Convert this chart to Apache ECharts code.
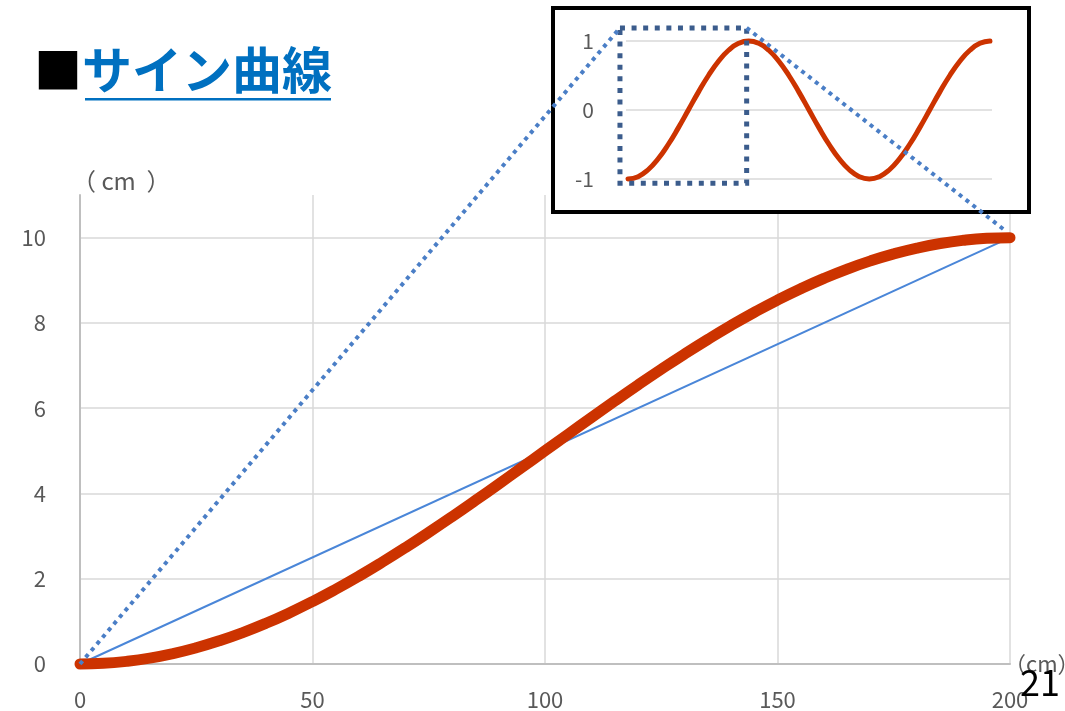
<!DOCTYPE html>
<html><head><meta charset="utf-8">
<script src="https://cdn.jsdelivr.net/npm/echarts@6/dist/echarts.min.js"></script>
<style>html,body{margin:0;padding:0;background:#fff;}#c{width:1065px;height:711px;}</style>
</head><body><div id="c"></div>
<script>
// ---- data ----
const distanceX = [0,5,10,15,20,25,30,35,40,45,50,55,60,65,70,75,80,85,90,95,100,105,110,115,120,125,130,135,140,145,150,155,160,165,170,175,180,185,190,195,200];
const sineCurveY = [0,0.015,0.062,0.138,0.245,0.381,0.545,0.737,0.955,1.198,1.464,1.753,2.061,2.388,2.730,3.087,3.455,3.833,4.218,4.608,5.000,5.392,5.782,6.167,6.545,6.913,7.270,7.612,7.939,8.247,8.536,8.802,9.045,9.263,9.455,9.619,9.755,9.862,9.938,9.985,10];
const straightX = [0,200];
const straightY = [0,10];
const xTicks = [0,50,100,150,200];
const yTicks = [0,2,4,6,8,10];
const insetAngle = [0,15,30,45,60,75,90,105,120,135,150,165,180,195,210,225,240,255,270,285,300,315,330,345,360,375,390,405,420,435,450,465,480,495,510,525,540];
const insetWave = [-1,-0.966,-0.866,-0.707,-0.5,-0.259,0,0.259,0.5,0.707,0.866,0.966,1,0.966,0.866,0.707,0.5,0.259,0,-0.259,-0.5,-0.707,-0.866,-0.966,-1,-0.966,-0.866,-0.707,-0.5,-0.259,0,0.259,0.5,0.707,0.866,0.966,1];
const insetTicks = [-1,0,1];
const zoomedRange = {angleFrom:-12, angleTo:177, low:-1.06, high:1.19};
const titleMark = '■';
const titleText = 'サイン曲線';
const unitLabel = '（ cm  ）';
const xUnitLabel = '（cm）';
const pageNumber = '21';

const FONT = '"Noto Sans CJK JP", "Noto Sans", sans-serif';
const GREY = '#595959';
const chart = echarts.init(document.getElementById('c'), null, {renderer:'canvas'});

const option = {
  animation:false,
  backgroundColor:'#fff',
  textStyle:{fontFamily:FONT},
  title:{
    left:34, top:45, padding:0,
    text:'{m|'+titleMark+'}{t|'+titleText+'}',
    textStyle:{rich:{
      m:{fontSize:48, color:'#000', fontFamily:FONT},
      t:{fontSize:50, color:'#0070C0', fontWeight:'bold', fontFamily:FONT}
    }}
  },
  grid:[
    {left:80, right:55, top:195, bottom:47, containLabel:false, outerBoundsMode:'none'},
    {left:626, width:366, top:41, height:138, z:5, containLabel:false, outerBoundsMode:'none'}
  ],
  xAxis:[
    {type:'value', gridIndex:0, min:0, max:200, interval:50,
     name:xUnitLabel, nameLocation:'end', nameGap:-6,
     nameTextStyle:{fontSize:22, color:GREY, align:'left', verticalAlign:'middle', fontFamily:FONT},
     axisLine:{show:true, lineStyle:{color:'#bfbfbf', width:2}},
     axisTick:{show:false},
     axisLabel:{fontSize:22, color:GREY, margin:25, fontFamily:FONT,
       formatter:v=>xTicks.includes(v)?String(v):''},
     splitLine:{show:true, lineStyle:{color:'#d9d9d9', width:1.5}}},
    {type:'value', gridIndex:1, min:-3, max:543, show:false, z:5}
  ],
  yAxis:[
    {type:'value', gridIndex:0, min:0, max:11, interval:2,
     axisLine:{show:true, lineStyle:{color:'#bfbfbf', width:2}},
     axisTick:{show:false},
     axisLabel:{fontSize:22, color:GREY, margin:34, showMaxLabel:false, fontFamily:FONT,
       formatter:v=>yTicks.includes(v)?String(v):''},
     splitLine:{show:true, showMaxLine:false, lineStyle:{color:'#d9d9d9', width:1.5}}},
    {type:'value', gridIndex:1, min:-1, max:1, interval:1, z:5,
     axisLine:{show:false}, axisTick:{show:false},
     axisLabel:{fontSize:21, color:GREY, margin:32, fontFamily:FONT,
       formatter:v=>insetTicks.includes(v)?String(v):''},
     splitLine:{show:true, lineStyle:{color:'#d9d9d9', width:1.5}}}
  ],
  series:[
    {type:'line', xAxisIndex:0, yAxisIndex:0, z:2, clip:false,
     data:straightX.map((x,i)=>[x,straightY[i]]),
     showSymbol:false, lineStyle:{color:'#4A86D8', width:2}},
    {type:'line', xAxisIndex:0, yAxisIndex:0, z:3, clip:false, smooth:true,
     data:distanceX.map((x,i)=>[x,sineCurveY[i]]),
     showSymbol:false, lineStyle:{color:'#CC3300', width:11, cap:'round', join:'round'}},
    {type:'line', xAxisIndex:1, yAxisIndex:1, z:6, clip:false, smooth:true,
     data:insetAngle.map((x,i)=>[x,insetWave[i]]),
     showSymbol:false, lineStyle:{color:'#CC3300', width:5, cap:'round', join:'round'}}
  ]
};
chart.setOption(option);

const origin = chart.convertToPixel({gridIndex:0},[straightX[0],straightY[0]]);
const endPt = chart.convertToPixel({gridIndex:0},[straightX[1],straightY[1]]);
const zTL = chart.convertToPixel({gridIndex:1},[zoomedRange.angleFrom, zoomedRange.high]);
const zBR = chart.convertToPixel({gridIndex:1},[zoomedRange.angleTo, zoomedRange.low]);
const yTop = chart.convertToPixel({gridIndex:0},[0,11]);

chart.setOption({graphic:[
  {type:'rect', z:4, silent:true, shape:{x:553, y:8, width:476, height:204},
   style:{fill:'#fff', stroke:'#000', lineWidth:4}},
  {type:'rect', z:10, silent:true, shape:{x:zTL[0], y:zTL[1], width:zBR[0]-zTL[0], height:zBR[1]-zTL[1]},
   style:{fill:'none', stroke:'#3B5C8C', lineWidth:5, lineDash:[5,6.6]}},
  {type:'line', z:11, silent:true, shape:{x1:origin[0], y1:origin[1], x2:zTL[0], y2:zTL[1]},
   style:{stroke:'#4A7EC6', lineWidth:4, lineDash:[4,4.7]}},
  {type:'line', z:11, silent:true, shape:{x1:zBR[0], y1:zTL[1], x2:endPt[0]-6, y2:endPt[1]-8},
   style:{stroke:'#4A7EC6', lineWidth:4, lineDash:[4,4.7]}},
  {type:'rect', z:10, silent:true, shape:{x:85, y:98, width:246, height:2.5}, style:{fill:'#0070C0'}},
  {type:'text', z:3, silent:true, x:yTop[0]-8, y:yTop[1]-14,
   style:{text:unitLabel, fontSize:24, fill:GREY, fontFamily:FONT, verticalAlign:'middle'}},
  {type:'text', z:12, silent:true, x:1020, y:664,
   style:{text:pageNumber, fontSize:36, fill:'#000', fontFamily:FONT}}
]});
</script></body></html>
